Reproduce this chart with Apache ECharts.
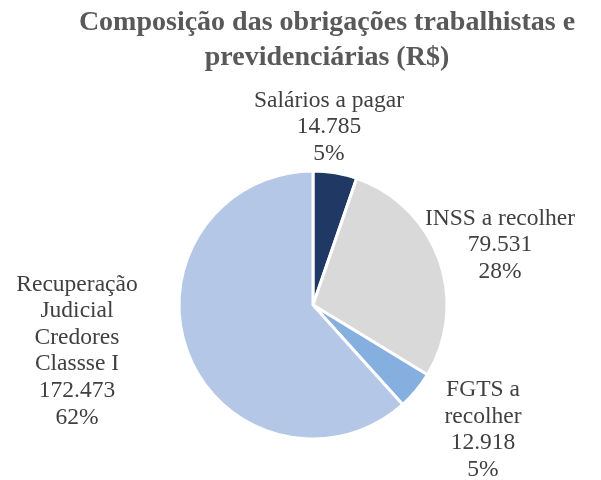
<!DOCTYPE html>
<html>
<head>
<meta charset="utf-8" />
<title>Composição das obrigações</title>
<script src="https://cdn.jsdelivr.net/npm/echarts@6/dist/echarts.min.js"></script>
</head>
<body style="margin:0;">
<div id="pieId" style="width:601px;height:480px;"></div>
<script>
var categories = ['Salários a pagar', 'INSS a recolher', 'FGTS a\nrecolher', 'Recuperação\nJudicial\nCredores\nClassse I'];
var values = [14785, 79531, 12918, 172473];
var colors = ['#1F3864', '#D9D9D9', '#85AFDF', '#B4C7E7'];
// label centres, px
var labelPos = [[329, 127], [500, 245], [483, 430], [77, 351]];

var total = values.reduce(function (a, b) { return a + b; }, 0);
function fmt(v) {
  return String(v).replace(/\B(?=(\d{3})+(?!\d))/g, '.');
}

var option = {
  title: {
    text: 'Composição das obrigações trabalhistas e\nprevidenciárias (R$)',
    left: 327,
    top: 5,
    padding: 0,
    textAlign: 'center',
    textStyle: {
      fontFamily: 'Liberation Serif',
      fontWeight: 'bold',
      fontSize: 28,
      lineHeight: 35,
      color: '#595959'
    }
  },
  series: [{
    type: 'pie',
    center: [313, 305],
    radius: 134,
    startAngle: 90,
    clockwise: true,
    avoidLabelOverlap: false,
    itemStyle: { borderColor: '#fff', borderWidth: 3 },
    label: {
      show: true,
      position: 'outside',
      fontFamily: 'Liberation Serif',
      fontSize: 23.5,
      lineHeight: 26.6,
      color: '#404040',
      align: 'center',
      formatter: function (p) {
        return p.name + '\n' + fmt(p.value) + '\n' + Math.round(p.value / total * 100) + '%';
      }
    },
    labelLine: { show: false },
    labelLayout: function (p) {
      var pos = labelPos[p.dataIndex];
      return { x: pos[0], y: pos[1], align: 'center', verticalAlign: 'middle' };
    },
    emphasis: { disabled: true },
    data: categories.map(function (c, i) {
      return { name: c, value: values[i], itemStyle: { color: colors[i] } };
    })
  }]
};
var myChart = echarts.init(document.getElementById('pieId'));
myChart.setOption(option);
</script>
</body>
</html>
